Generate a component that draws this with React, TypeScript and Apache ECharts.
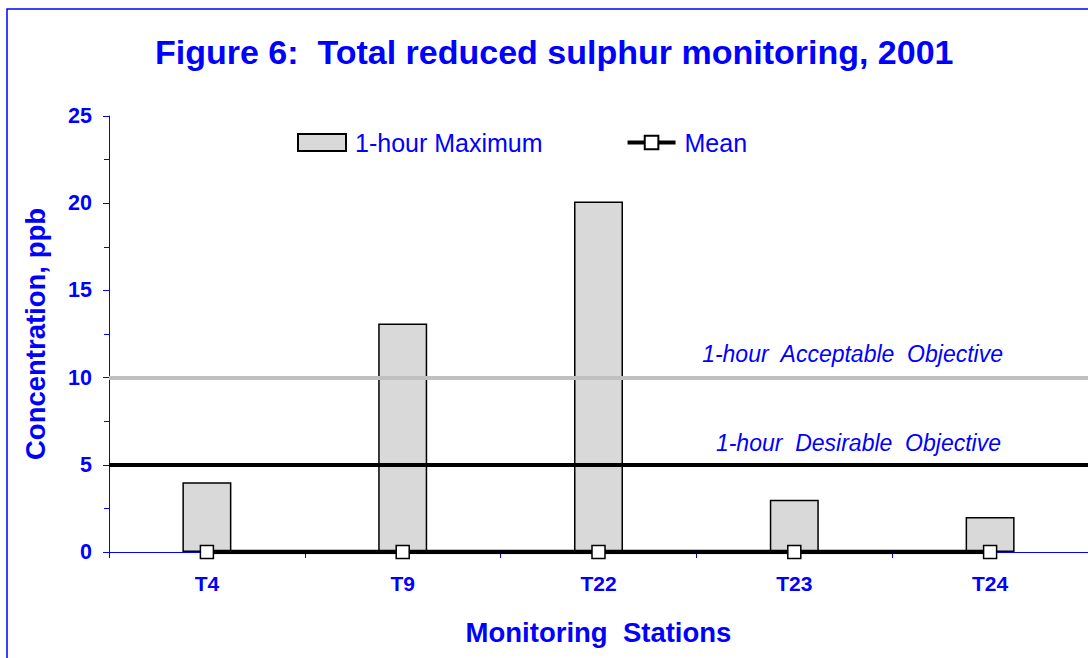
import React, { useEffect, useRef } from "react";
import * as echarts from "echarts";

const stations = ["T4", "T9", "T22", "T23", "T24"];
const maxValues = [4, 13.1, 20.1, 3, 2];
const meanValues = [0, 0, 0, 0, 0];
const acceptableObjective = 10;
const desirableObjective = 5;

const BLUE = "#0000ff";
const FONT = "Arial, 'Liberation Sans', sans-serif";

export default function App() {
  const ref = useRef<HTMLDivElement>(null);
  useEffect(() => {
    if (!ref.current) return;
    const chart = echarts.init(ref.current, null, { renderer: "svg" });
    chart.setOption({
      animation: false,
      backgroundColor: "#ffffff",
      textStyle: { fontFamily: FONT },
      title: {
        text: "Figure 6:  Total reduced sulphur monitoring, 2001",
        left: 150,
        top: 30,
        textStyle: { color: BLUE, fontSize: 34, fontWeight: "bold", fontFamily: FONT },
      },
      graphic: [
        {
          type: "rect",
          shape: { x: 7, y: 9, width: 1300, height: 1000 },
          style: { fill: "none", stroke: BLUE, lineWidth: 1.5 },
          silent: true,
          z: -10,
        },
      ],
      legend: {
        left: 292,
        top: 125,
        itemWidth: 48,
        itemHeight: 17,
        itemGap: 83,
        textStyle: { color: BLUE, fontSize: 25, fontFamily: FONT, padding: [0, 0, 0, 4] },
        data: [
          { name: "1-hour Maximum", icon: "rect" },
          { name: "Mean", lineStyle: { width: 4, color: "#000000" } },
        ],
      },
      grid: { left: 109, top: 116, width: 980, height: 436 },
      xAxis: {
        type: "category",
        data: stations,
        name: "Monitoring  Stations",
        nameLocation: "middle",
        nameGap: 66,
        nameTextStyle: { color: BLUE, fontSize: 27.5, fontWeight: "bold", fontFamily: FONT },
        axisLine: { lineStyle: { color: BLUE, width: 1 } },
        axisTick: { show: true, length: 6, lineStyle: { color: BLUE } },
        axisLabel: { color: BLUE, fontSize: 21, fontWeight: "bold", margin: 21, fontFamily: FONT },
      },
      yAxis: {
        type: "value",
        min: 0,
        max: 25,
        interval: 5,
        name: "Concentration, ppb",
        nameLocation: "middle",
        nameGap: 60,
        nameTextStyle: { color: BLUE, fontSize: 27.5, fontWeight: "bold", fontFamily: FONT },
        axisLine: { show: true, lineStyle: { color: BLUE, width: 1 } },
        axisTick: { show: true, length: 6, lineStyle: { color: BLUE } },
        minorTick: { show: true, splitNumber: 2, length: 5, lineStyle: { color: BLUE } },
        splitLine: { show: false },
        axisLabel: { color: BLUE, fontSize: 21.5, fontWeight: "bold", margin: 17, fontFamily: FONT },
      },
      series: [
        {
          name: "1-hour Maximum",
          type: "bar",
          data: maxValues,
          barWidth: 49,
          itemStyle: { color: "#d9d9d9", borderColor: "#000000", borderWidth: 1.5 },
          z: 2,
        },
        {
          name: "Mean",
          type: "line",
          data: meanValues,
          symbol: "rect",
          symbolSize: 13,
          showSymbol: true,
          lineStyle: { color: "#000000", width: 4.5 },
          itemStyle: { color: "#ffffff", borderColor: "#000000", borderWidth: 1.5 },
          z: 5,
          markLine: {
            silent: true,
            symbol: "none",
            animation: false,
            data: [
              {
                yAxis: acceptableObjective,
                lineStyle: { color: "#c0c0c0", width: 4, type: "solid" },
                label: {
                  show: true,
                  position: "insideEndTop",
                  formatter: "1-hour  Acceptable  Objective",
                  color: BLUE,
                  fontStyle: "italic",
                  fontSize: 23,
                  fontFamily: FONT,
                  padding: [0, 80, 7, 0],
                },
              },
              {
                yAxis: desirableObjective,
                lineStyle: { color: "#000000", width: 4, type: "solid" },
                label: {
                  show: true,
                  position: "insideEndTop",
                  formatter: "1-hour  Desirable  Objective",
                  color: BLUE,
                  fontStyle: "italic",
                  fontSize: 23,
                  fontFamily: FONT,
                  padding: [0, 82, 5, 0],
                },
              },
            ],
          },
        },
      ],
    });
    return () => chart.dispose();
  }, []);
  return (
    <div
      ref={ref}
      style={{ position: "fixed", left: 0, top: 0, width: 1088, height: 658 }}
    />
  );
}
